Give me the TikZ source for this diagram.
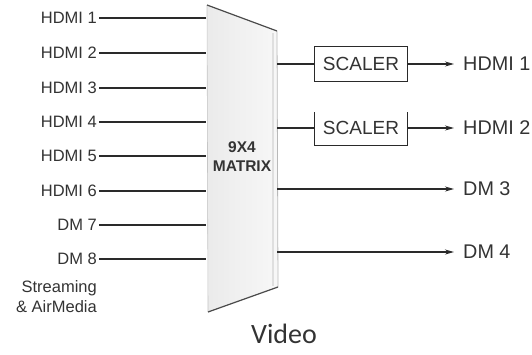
\documentclass[tikz,border=0pt]{standalone}
\usepackage{fontspec}
\setmainfont{Liberation Sans}
\newfontfamily\videofont{Carlito}
\usetikzlibrary{arrows.meta}
\definecolor{txt}{HTML}{333333}
\definecolor{ln}{HTML}{2A2A2A}
\tikzset{
  inlabel/.style={anchor=east, inner sep=0pt, text=txt, font=\fontsize{16.5}{18}\selectfont},
  outlabel/.style={anchor=west, inner sep=0pt, text=txt, font=\fontsize{19.8}{21}\selectfont},
  wire/.style={draw=ln, line width=1.2pt},
  arrowwire/.style={wire, -{Stealth[length=9pt, width=5pt]}},
  scalerbox/.style={minimum width=93pt, minimum height=35pt, inner sep=0pt, text=txt, font=\fontsize{19}{21}\selectfont},
}
\begin{document}
\begin{tikzpicture}[x=1pt,y=-1pt]
\useasboundingbox (0,0) rectangle (532,354);
% matrix trapezoid
\coordinate (mtl) at (207,5);
\coordinate (mtr) at (277,31);
\coordinate (mbr) at (278,287);
\coordinate (mbl) at (208,312);
\shade[left color=gray!16, right color=gray!6] (mtl) -- (mtr) -- (mbr) -- (mbl) -- cycle;
\draw[gray!45, line width=0.6pt] (mtl) -- (mbl);
\draw[gray!55, line width=0.8pt] (mtr) -- (mbr);
\draw[gray!25, line width=1.5pt] (273,33) -- (273,286);
\draw[ln!85, line width=1.2pt] (mtl) -- (mtr);
\draw[ln!85, line width=1.2pt] (mbl) -- (mbr);
\node[text=txt, font=\bfseries\fontsize{15.5}{19}\selectfont, align=center, inner sep=0pt] (mx) at (242,157) {9X4\\MATRIX};
% inputs
\foreach \n/\t/\y in {i1/HDMI 1/18, i2/HDMI 2/53, i3/HDMI 3/88, i4/HDMI 4/122, i5/HDMI 5/156, i6/HDMI 6/191, i7/DM 7/225, i8/DM 8/259}{
  \node[inlabel] (\n) at (97,\y) {\t};
  \coordinate (m\n) at (206,\y);
  \draw[wire] ([xshift=2pt]\n.east) -- (m\n);
}
\node[inlabel, align=right, font=\fontsize{16.5}{20}\selectfont] (stream) at (97,297) {Streaming\\\& AirMedia};
% outputs
\coordinate (mo1) at (277,64);
\coordinate (mo2) at (277,128);
\coordinate (mo3) at (277,189);
\coordinate (mo4) at (277,252);
\node[scalerbox, draw=ln, line width=1.3pt] (s1) at (361,64) {SCALER};
\node[scalerbox] (s2) at (361,128) {SCALER};
\draw[ln, line width=1.3pt] ([yshift=-2pt]s2.north west) -- (s2.south west) -- (s2.south east) -- ([yshift=-2pt]s2.north east);
\node[outlabel] (o1) at (463,64) {HDMI 1};
\node[outlabel] (o2) at (463,128) {HDMI 2};
\node[outlabel] (o3) at (463,189) {DM 3};
\node[outlabel] (o4) at (463,252) {DM 4};
\draw[wire] (mo1) -- (s1.west);
\draw[arrowwire] (s1.east) -- ([xshift=-9pt]o1.west);
\draw[wire] (mo2) -- (s2.west);
\draw[arrowwire] (s2.east) -- ([xshift=-9pt]o2.west);
\draw[arrowwire] (mo3) -- ([xshift=-9pt]o3.west);
\draw[arrowwire] (mo4) -- ([xshift=-9pt]o4.west);
% title
\node[text=txt, font=\videofont\fontsize{28}{32}\selectfont, inner sep=0pt] (video) at (284,334) {Video};
\end{tikzpicture}
\end{document}
